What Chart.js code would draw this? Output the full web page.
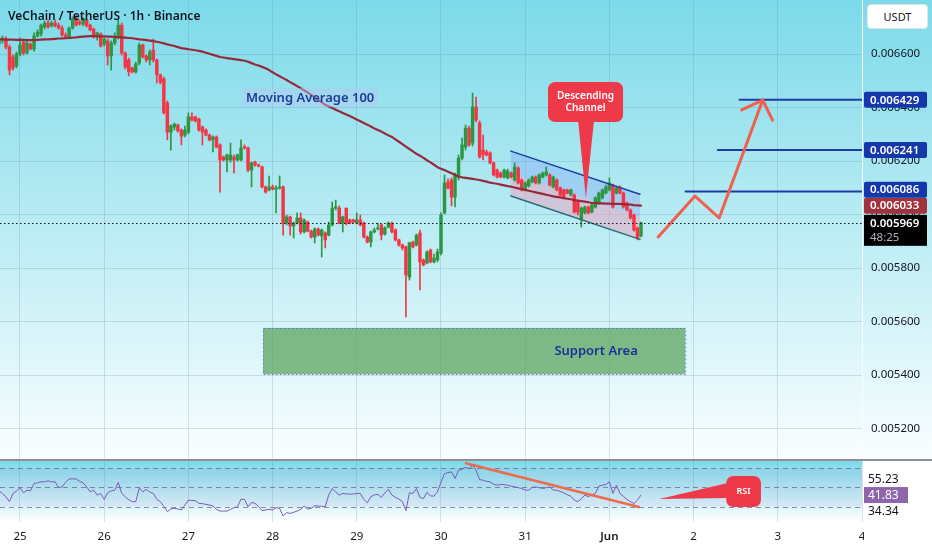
<!DOCTYPE html>
<html>
<head>
<meta charset="utf-8">
<title>VET/USDT 1h</title>
<script src="https://cdn.jsdelivr.net/npm/chart.js@4.4.1/dist/chart.umd.min.js"></script>
<style>
  html, body { margin: 0; padding: 0; background: #fff; }
  #wrap { position: relative; width: 932px; height: 550px; overflow: hidden; font-family: "Noto Sans", sans-serif; }
  #price { position: absolute; left: 0; top: 0; }
  #osc { position: absolute; left: 0; top: 459px; }
  #title { position: absolute; left: 8px; top: 7px; font-size: 12px; font-weight: 600; color: #131722; line-height: 18px; white-space: nowrap; }
  #unit { position: absolute; left: 867px; top: 4px; width: 59px; height: 23px; background: #fff; border: 1px solid #e0e3eb; border-radius: 4px; font-size: 11px; line-height: 23px; text-align: center; color: #131722; }
</style>
</head>
<body>
<div id="wrap">
  <canvas id="price" width="932" height="459"></canvas>
  <canvas id="osc" width="932" height="91"></canvas>
  <div id="title">VeChain / TetherUS · 1h · Binance</div>
  <div id="unit">USDT</div>
</div>
<script>
// hours are counted from 25 May 00:00, first candle is 24 May 18:00
const firstHour = -6;

const opens = [
  0.006637, 0.006652, 0.006656, 0.006626, 0.006589, 0.006555, 0.006600, 0.006645, 0.006604, 0.006637,
  0.006619, 0.006667, 0.006675, 0.006701, 0.006716, 0.006705, 0.006716, 0.006708, 0.006697, 0.006671,
  0.006664, 0.006697, 0.006731, 0.006720, 0.006712, 0.006727, 0.006708, 0.006693, 0.006667, 0.006675,
  0.006637, 0.006649, 0.006593, 0.006641, 0.006664, 0.006708, 0.006604, 0.006578, 0.006548, 0.006533,
  0.006566, 0.006634, 0.006593, 0.006578, 0.006615, 0.006578, 0.006522, 0.006507, 0.006417, 0.006308,
  0.006327, 0.006335, 0.006316, 0.006297, 0.006308, 0.006365, 0.006365, 0.006357, 0.006327, 0.006316,
  0.006297, 0.006279, 0.006290, 0.006260, 0.006215, 0.006204, 0.006204, 0.006215, 0.006204, 0.006204,
  0.006252, 0.006249, 0.006166, 0.006196, 0.006185, 0.006178, 0.006103, 0.006092, 0.006103, 0.006095,
  0.006099, 0.006103, 0.005968, 0.005991, 0.005957, 0.005968, 0.005987, 0.005935, 0.005972, 0.005938,
  0.005916, 0.005946, 0.005920, 0.005931, 0.005923, 0.005961, 0.006024, 0.006024, 0.005968, 0.006024,
  0.005980, 0.005980, 0.005968, 0.005980, 0.005968, 0.005916, 0.005897, 0.005935, 0.005946, 0.005961,
  0.005927, 0.005953, 0.005968, 0.005942, 0.005905, 0.005886, 0.005879, 0.005766, 0.005897, 0.005886,
  0.005931, 0.005830, 0.005819, 0.005867, 0.005823, 0.005830, 0.005856, 0.006006, 0.006122, 0.006129,
  0.006065, 0.006140, 0.006211, 0.006252, 0.006323, 0.006267, 0.006402, 0.006342, 0.006241, 0.006234,
  0.006230, 0.006193, 0.006166, 0.006155, 0.006140, 0.006137, 0.006155, 0.006129, 0.006174, 0.006129,
  0.006092, 0.006107, 0.006122, 0.006140, 0.006118, 0.006140, 0.006148, 0.006148, 0.006103, 0.006129,
  0.006099, 0.006092, 0.006092, 0.006073, 0.006073, 0.006047, 0.005980, 0.006006, 0.006028, 0.006009,
  0.006028, 0.006043, 0.006062, 0.006080, 0.006092, 0.006110, 0.006080, 0.006099, 0.006080, 0.006043,
  0.006017, 0.005998, 0.005950, 0.005920
];
const highs = [
  0.006660, 0.006667, 0.006664, 0.006634, 0.006596, 0.006607, 0.006660, 0.006652, 0.006649, 0.006641,
  0.006679, 0.006690, 0.006712, 0.006723, 0.006727, 0.006723, 0.006727, 0.006716, 0.006705, 0.006679,
  0.006701, 0.006738, 0.006746, 0.006727, 0.006735, 0.006731, 0.006712, 0.006697, 0.006682, 0.006679,
  0.006660, 0.006656, 0.006649, 0.006679, 0.006727, 0.006716, 0.006608, 0.006585, 0.006551, 0.006570,
  0.006641, 0.006637, 0.006596, 0.006615, 0.006656, 0.006581, 0.006525, 0.006514, 0.006424, 0.006335,
  0.006342, 0.006338, 0.006320, 0.006331, 0.006380, 0.006380, 0.006368, 0.006361, 0.006331, 0.006320,
  0.006301, 0.006294, 0.006294, 0.006264, 0.006219, 0.006226, 0.006267, 0.006223, 0.006226, 0.006279,
  0.006260, 0.006252, 0.006196, 0.006200, 0.006189, 0.006181, 0.006107, 0.006144, 0.006110, 0.006107,
  0.006144, 0.006107, 0.005998, 0.005994, 0.005972, 0.006006, 0.006006, 0.005983, 0.005976, 0.005942,
  0.005950, 0.005950, 0.005946, 0.005935, 0.005972, 0.006047, 0.006054, 0.006032, 0.005994, 0.006024,
  0.005983, 0.005983, 0.006006, 0.005998, 0.005972, 0.005920, 0.005938, 0.005950, 0.005968, 0.005965,
  0.005954, 0.005972, 0.005972, 0.005946, 0.005908, 0.005890, 0.005882, 0.005897, 0.005901, 0.005927,
  0.005942, 0.005834, 0.005864, 0.005871, 0.005852, 0.005871, 0.006006, 0.006148, 0.006133, 0.006137,
  0.006155, 0.006223, 0.006286, 0.006335, 0.006331, 0.006454, 0.006439, 0.006350, 0.006297, 0.006241,
  0.006234, 0.006196, 0.006170, 0.006159, 0.006170, 0.006170, 0.006159, 0.006193, 0.006178, 0.006133,
  0.006122, 0.006133, 0.006144, 0.006144, 0.006152, 0.006159, 0.006178, 0.006152, 0.006144, 0.006133,
  0.006103, 0.006095, 0.006095, 0.006095, 0.006077, 0.006050, 0.006028, 0.006032, 0.006032, 0.006039,
  0.006066, 0.006084, 0.006095, 0.006110, 0.006137, 0.006114, 0.006103, 0.006107, 0.006084, 0.006047,
  0.006021, 0.006002, 0.005953, 0.005972
];
const lows = [
  0.006630, 0.006641, 0.006619, 0.006522, 0.006540, 0.006548, 0.006593, 0.006596, 0.006600, 0.006615,
  0.006611, 0.006664, 0.006667, 0.006693, 0.006697, 0.006701, 0.006701, 0.006693, 0.006667, 0.006660,
  0.006660, 0.006693, 0.006705, 0.006708, 0.006705, 0.006701, 0.006686, 0.006660, 0.006652, 0.006626,
  0.006630, 0.006559, 0.006540, 0.006634, 0.006656, 0.006596, 0.006544, 0.006518, 0.006529, 0.006529,
  0.006559, 0.006585, 0.006570, 0.006559, 0.006570, 0.006492, 0.006488, 0.006376, 0.006279, 0.006241,
  0.006316, 0.006308, 0.006260, 0.006290, 0.006301, 0.006350, 0.006346, 0.006312, 0.006260, 0.006294,
  0.006275, 0.006234, 0.006249, 0.006084, 0.006200, 0.006159, 0.006196, 0.006155, 0.006200, 0.006200,
  0.006245, 0.006159, 0.006103, 0.006181, 0.006178, 0.006099, 0.006080, 0.006088, 0.006092, 0.006006,
  0.006095, 0.005923, 0.005961, 0.005923, 0.005912, 0.005965, 0.005927, 0.005931, 0.005935, 0.005912,
  0.005894, 0.005920, 0.005841, 0.005875, 0.005920, 0.005957, 0.006017, 0.005965, 0.005935, 0.005961,
  0.005965, 0.005968, 0.005965, 0.005957, 0.005912, 0.005894, 0.005879, 0.005931, 0.005942, 0.005905,
  0.005923, 0.005950, 0.005931, 0.005901, 0.005882, 0.005867, 0.005617, 0.005755, 0.005875, 0.005882,
  0.005718, 0.005808, 0.005815, 0.005819, 0.005819, 0.005823, 0.005849, 0.006002, 0.006095, 0.006032,
  0.006028, 0.006129, 0.006204, 0.006241, 0.006256, 0.006256, 0.006346, 0.006211, 0.006204, 0.006219,
  0.006189, 0.006144, 0.006137, 0.006137, 0.006137, 0.006133, 0.006137, 0.006125, 0.006114, 0.006088,
  0.006088, 0.006103, 0.006118, 0.006114, 0.006114, 0.006137, 0.006144, 0.006107, 0.006099, 0.006088,
  0.006069, 0.006062, 0.006077, 0.006069, 0.006006, 0.005998, 0.005953, 0.006002, 0.006002, 0.006006,
  0.006024, 0.006039, 0.006058, 0.006077, 0.006088, 0.006024, 0.006077, 0.006077, 0.006024, 0.006013,
  0.005983, 0.005938, 0.005905, 0.005916
];
const closes = [
  0.006652, 0.006660, 0.006626, 0.006540, 0.006548, 0.006600, 0.006634, 0.006604, 0.006641, 0.006619,
  0.006667, 0.006682, 0.006708, 0.006716, 0.006701, 0.006716, 0.006705, 0.006697, 0.006671, 0.006664,
  0.006697, 0.006731, 0.006708, 0.006712, 0.006731, 0.006705, 0.006690, 0.006664, 0.006679, 0.006630,
  0.006656, 0.006593, 0.006641, 0.006664, 0.006708, 0.006604, 0.006551, 0.006533, 0.006533, 0.006563,
  0.006634, 0.006589, 0.006578, 0.006608, 0.006578, 0.006522, 0.006495, 0.006380, 0.006308, 0.006331,
  0.006338, 0.006312, 0.006293, 0.006316, 0.006365, 0.006353, 0.006350, 0.006316, 0.006308, 0.006297,
  0.006279, 0.006290, 0.006252, 0.006204, 0.006204, 0.006223, 0.006223, 0.006204, 0.006223, 0.006249,
  0.006249, 0.006166, 0.006193, 0.006185, 0.006181, 0.006103, 0.006084, 0.006103, 0.006095, 0.006099,
  0.006103, 0.005968, 0.005991, 0.005957, 0.005968, 0.005987, 0.005935, 0.005980, 0.005938, 0.005916,
  0.005946, 0.005923, 0.005942, 0.005905, 0.005961, 0.006024, 0.006028, 0.005968, 0.005991, 0.005968,
  0.005968, 0.005972, 0.005980, 0.005961, 0.005916, 0.005897, 0.005935, 0.005942, 0.005950, 0.005923,
  0.005950, 0.005968, 0.005935, 0.005905, 0.005886, 0.005875, 0.005774, 0.005894, 0.005879, 0.005923,
  0.005823, 0.005811, 0.005860, 0.005823, 0.005837, 0.005860, 0.005998, 0.006118, 0.006099, 0.006065,
  0.006148, 0.006211, 0.006260, 0.006323, 0.006260, 0.006402, 0.006353, 0.006215, 0.006223, 0.006223,
  0.006193, 0.006148, 0.006140, 0.006140, 0.006166, 0.006163, 0.006140, 0.006178, 0.006118, 0.006092,
  0.006118, 0.006129, 0.006140, 0.006118, 0.006148, 0.006155, 0.006159, 0.006110, 0.006140, 0.006092,
  0.006073, 0.006065, 0.006080, 0.006092, 0.006009, 0.006009, 0.006024, 0.006028, 0.006006, 0.006036,
  0.006062, 0.006080, 0.006092, 0.006103, 0.006118, 0.006028, 0.006099, 0.006080, 0.006028, 0.006017,
  0.005987, 0.005942, 0.005912, 0.005969
];
const ma100 = [
  0.006655, 0.006655, 0.006654, 0.006654, 0.006654, 0.006653, 0.006653, 0.006653, 0.006652, 0.006652,
  0.006652, 0.006653, 0.006654, 0.006655, 0.006655, 0.006656, 0.006657, 0.006658, 0.006658, 0.006659,
  0.006660, 0.006661, 0.006662, 0.006664, 0.006665, 0.006666, 0.006667, 0.006667, 0.006666, 0.006666,
  0.006666, 0.006665, 0.006665, 0.006664, 0.006663, 0.006662, 0.006661, 0.006660, 0.006659, 0.006657,
  0.006655, 0.006654, 0.006652, 0.006650, 0.006648, 0.006646, 0.006643, 0.006640, 0.006636, 0.006633,
  0.006630, 0.006626, 0.006622, 0.006620, 0.006618, 0.006616, 0.006614, 0.006612, 0.006609, 0.006605,
  0.006601, 0.006597, 0.006593, 0.006589, 0.006587, 0.006585, 0.006583, 0.006581, 0.006579, 0.006577,
  0.006575, 0.006571, 0.006566, 0.006561, 0.006557, 0.006552, 0.006547, 0.006540, 0.006532, 0.006524,
  0.006517, 0.006510, 0.006503, 0.006495, 0.006488, 0.006480, 0.006472, 0.006464, 0.006456, 0.006447,
  0.006438, 0.006429, 0.006419, 0.006410, 0.006404, 0.006398, 0.006392, 0.006386, 0.006380, 0.006374,
  0.006368, 0.006362, 0.006355, 0.006349, 0.006342, 0.006336, 0.006329, 0.006322, 0.006316, 0.006310,
  0.006303, 0.006296, 0.006290, 0.006281, 0.006272, 0.006263, 0.006254, 0.006245, 0.006236, 0.006227,
  0.006220, 0.006212, 0.006203, 0.006195, 0.006186, 0.006177, 0.006171, 0.006166, 0.006160, 0.006154,
  0.006148, 0.006142, 0.006139, 0.006137, 0.006135, 0.006133, 0.006131, 0.006129, 0.006126, 0.006123,
  0.006119, 0.006117, 0.006115, 0.006112, 0.006109, 0.006106, 0.006104, 0.006101, 0.006098, 0.006095,
  0.006092, 0.006089, 0.006086, 0.006083, 0.006080, 0.006077, 0.006074, 0.006071, 0.006068, 0.006066,
  0.006064, 0.006061, 0.006059, 0.006057, 0.006054, 0.006052, 0.006050, 0.006048, 0.006046, 0.006043,
  0.006043, 0.006042, 0.006042, 0.006041, 0.006041, 0.006040, 0.006040, 0.006040, 0.006039, 0.006038,
  0.006037, 0.006035, 0.006034, 0.006033
];
const rsi14 = [
  46.2, 43.5, 40.0, 35.0, 43.5, 46.0, 49.3, 44.2, 46.9, 46.2,
  53.7, 54.5, 55.5, 55.5, 56.5, 55.5, 55.5, 49.6, 50.3, 55.0,
  58.5, 58.5, 58.5, 56.0, 54.4, 50.3, 45.2, 46.9, 41.8, 43.5,
  37.3, 44.2, 46.2, 46.9, 54.8, 43.5, 40.1, 37.0, 35.0, 35.0,
  49.3, 45.2, 47.6, 45.0, 43.5, 37.3, 35.0, 30.0, 24.7, 27.4,
  28.1, 27.5, 26.4, 31.5, 36.6, 36.3, 36.0, 33.2, 33.0, 32.2,
  31.5, 30.5, 27.1, 25.3, 25.3, 25.3, 27.0, 28.8, 29.8, 37.7,
  37.3, 29.8, 34.2, 33.2, 30.0, 25.7, 26.5, 27.1, 26.4, 28.8,
  28.1, 20.2, 23.6, 22.9, 24.0, 25.3, 27.1, 30.5, 27.4, 28.1,
  30.8, 30.5, 30.2, 29.8, 41.8, 48.6, 45.0, 41.8, 43.5, 43.0,
  42.8, 43.0, 43.5, 43.5, 37.3, 33.9, 40.1, 42.0, 42.5, 39.4,
  44.0, 47.9, 41.8, 39.5, 37.7, 35.0, 25.7, 44.2, 43.5, 48.6,
  39.4, 38.3, 44.5, 41.0, 40.7, 45.2, 55.0, 64.0, 65.0, 65.7,
  58.9, 67.4, 68.5, 70.5, 69.1, 72.5, 67.4, 57.8, 57.2, 56.0,
  55.5, 53.0, 52.0, 52.7, 52.5, 52.0, 51.0, 50.3, 49.5, 48.6,
  47.0, 46.9, 49.6, 50.3, 49.5, 48.6, 49.5, 50.3, 46.9, 46.9,
  45.5, 44.2, 42.0, 40.7, 36.6, 35.0, 38.0, 41.8, 40.1, 42.0,
  43.5, 51.0, 52.0, 52.7, 55.5, 43.5, 52.0, 43.5, 40.5, 37.3,
  35.0, 33.2, 36.6, 41.83
];
const rsiSideValues = [55.23, 34.34];
const countdown = '48:25';

const dayHours = [0, 24, 48, 72, 96, 120, 144, 168, 192, 216, 240];
const dayLabels = ['25', '26', '27', '28', '29', '30', '31', 'Jun', '2', '3', '4'];
const priceTicks = [0.0052, 0.0054, 0.0056, 0.0058, 0.006, 0.0062, 0.0064, 0.0066];
const rsiLevels = [30, 50, 70];

// drawings, in hours / price
const supportHours = [69.3, 189.6];
const supportPrices = [0.005404, 0.005576];
const supportTextHour = 164.2;
const channelHours = [139.9, 176.7];
const channelTop = [0.006237, 0.006076];
const channelBottom = [0.006069, 0.005907];
const pathHours = [181.9, 192.4, 199.3, 211.7];
const pathPrices = [0.005916, 0.006069, 0.005987, 0.006428];
const headHours = [205.7, 211.7, 214.5];
const headPrices = [0.006391, 0.006428, 0.006353];
const targetStarts = [189.7, 198.9, 205.1];
const targetPrices = [0.006086, 0.006241, 0.006429];
const maTagHours = [63.3, 102.1];
const maTagPrices = [0.006402, 0.006473];
const calloutHours = [150.5, 171.9];
const calloutPrices = [0.006346, 0.006495];
const calloutPointer = { hours: [159.1, 161.3, 163.6], price: 0.006062 };
const rsiTrendHours = [127.1, 176.4];
const rsiTrendValues = [74.6, 29.5];
const rsiBoxHours = [201.3, 211.2];
const rsiBoxValues = [29.5, 61.5];
const rsiPointer = { hours: [201.8, 182.2], values: [54.3, 37.8, 38.8] };

const xMin = -5.7;
const xMax = 240;
const up = '#2c9642';
const down = '#f23645';
const red = '#ee3a48';
const gridColor = 'rgba(100, 125, 160, 0.22)';
Chart.defaults.font.family = '"Noto Sans", sans-serif';

const hours = closes.map((_, i) => firstHour + i);
const candleColors = closes.map((c, i) => (c >= opens[i] ? up : down));
const lastPrice = closes[closes.length - 1];
const lastMa = ma100[ma100.length - 1];
const lastRsi = rsi14[rsi14.length - 1];
const toPoints = (xs, ys) => xs.map((x, i) => ({ x, y: ys[i] }));

const lineSet = (data, color, width, order) => ({
  type: 'line', data, borderColor: color, borderWidth: width, pointRadius: 0,
  tension: 0, borderJoinStyle: 'round', borderCapStyle: 'round', order,
});

const polygon = (ctx, pts) => {
  ctx.beginPath();
  pts.forEach(([x, y], i) => (i ? ctx.lineTo(x, y) : ctx.moveTo(x, y)));
  ctx.closePath();
  ctx.fill();
};

const priceDecor = {
  id: 'priceDecor',
  beforeDraw(chart) {
    const { ctx, width, height } = chart;
    const g = ctx.createLinearGradient(0, 0, 0, height);
    g.addColorStop(0, '#7cdae9');
    g.addColorStop(1, '#fafeff');
    ctx.save();
    ctx.fillStyle = g;
    ctx.fillRect(0, 0, width, height);
    ctx.restore();
  },
  beforeDatasetsDraw(chart) {
    const { ctx, scales: { x, y } } = chart;
    ctx.save();
    const sx1 = x.getPixelForValue(supportHours[0]);
    const sx2 = x.getPixelForValue(supportHours[1]);
    const sy1 = y.getPixelForValue(supportPrices[1]);
    const sy2 = y.getPixelForValue(supportPrices[0]);
    ctx.fillStyle = 'rgba(84, 160, 86, 0.7)';
    ctx.fillRect(sx1, sy1, sx2 - sx1, sy2 - sy1);
    ctx.setLineDash([2, 2]);
    ctx.strokeStyle = 'rgba(70, 100, 200, 0.7)';
    ctx.lineWidth = 1;
    ctx.strokeRect(sx1 + 0.5, sy1 + 0.5, sx2 - sx1, sy2 - sy1);
    ctx.setLineDash([]);

    const cx1 = x.getPixelForValue(channelHours[0]);
    const cx2 = x.getPixelForValue(channelHours[1]);
    const t1 = y.getPixelForValue(channelTop[0]);
    const t2 = y.getPixelForValue(channelTop[1]);
    const b1 = y.getPixelForValue(channelBottom[0]);
    const b2 = y.getPixelForValue(channelBottom[1]);
    const m1 = (t1 + b1) / 2;
    const m2 = (t2 + b2) / 2;
    ctx.fillStyle = 'rgba(120, 150, 245, 0.3)';
    polygon(ctx, [[cx1, t1], [cx2, t2], [cx2, m2], [cx1, m1]]);
    ctx.fillStyle = 'rgba(237, 160, 190, 0.5)';
    polygon(ctx, [[cx1, m1], [cx2, m2], [cx2, b2], [cx1, b1]]);
    ctx.restore();
  },
  afterDatasetsDraw(chart) {
    const { ctx, chartArea, scales: { x, y } } = chart;
    ctx.save();
    const ly = Math.round(y.getPixelForValue(lastPrice)) + 0.5;
    ctx.strokeStyle = '#131722';
    ctx.lineWidth = 1;
    ctx.setLineDash([1.5, 2.5]);
    ctx.beginPath();
    ctx.moveTo(chartArea.left, ly);
    ctx.lineTo(chartArea.right, ly);
    ctx.stroke();
    ctx.setLineDash([]);

    ctx.textAlign = 'center';
    ctx.textBaseline = 'middle';
    const mx1 = x.getPixelForValue(maTagHours[0]);
    const mx2 = x.getPixelForValue(maTagHours[1]);
    const my1 = y.getPixelForValue(maTagPrices[1]);
    const my2 = y.getPixelForValue(maTagPrices[0]);
    ctx.fillStyle = 'rgba(180, 200, 240, 0.45)';
    ctx.fillRect(mx1, my1, mx2 - mx1, my2 - my1);
    ctx.fillStyle = '#1e3a94';
    ctx.font = '600 13px "Noto Sans"';
    ctx.fillText('Moving Average 100', (mx1 + mx2) / 2, (my1 + my2) / 2 + 0.5);

    ctx.fillStyle = '#1a3296';
    ctx.fillText('Support Area', x.getPixelForValue(supportTextHour),
      y.getPixelForValue((supportPrices[0] + supportPrices[1]) / 2));

    const bx1 = x.getPixelForValue(calloutHours[0]);
    const bx2 = x.getPixelForValue(calloutHours[1]);
    const by1 = y.getPixelForValue(calloutPrices[1]);
    const by2 = y.getPixelForValue(calloutPrices[0]);
    const tipY = y.getPixelForValue(calloutPointer.price);
    const [p1, tip, p2] = calloutPointer.hours.map((h) => x.getPixelForValue(h));
    ctx.fillStyle = red;
    ctx.beginPath();
    ctx.roundRect(bx1, by1, bx2 - bx1, by2 - by1, 7);
    ctx.fill();
    polygon(ctx, [[p1, by2 - 1], [tip, tipY], [p2, by2 - 1]]);
    ctx.fillStyle = '#fff';
    ctx.font = '600 10px "Noto Sans"';
    const cmx = (bx1 + bx2) / 2;
    const cmy = (by1 + by2) / 2;
    ctx.fillText('Descending', cmx, cmy - 6);
    ctx.fillText('Channel', cmx, cmy + 6);

    // price scale tags
    const tagX = chartArea.right + 2;
    const tagW = 63;
    const cy = y.getPixelForValue(lastPrice);
    ctx.textAlign = 'left';
    ctx.fillStyle = '#000';
    ctx.fillRect(tagX, cy - 8, tagW, 31);
    ctx.fillStyle = '#fff';
    ctx.font = '600 11.5px "Noto Sans"';
    ctx.fillText(lastPrice.toFixed(6), tagX + 6, cy + 0.5);
    ctx.fillStyle = '#b2b5be';
    ctx.font = '11.5px "Noto Sans"';
    ctx.fillText(countdown, tagX + 6, cy + 15);

    const tags = [{ v: lastMa, bg: '#a3323f' }]
      .concat(targetPrices.map((v) => ({ v, bg: '#1437aa' })))
      .sort((a, b) => a.v - b.v);
    let limit = cy - 8;
    ctx.font = '600 11.5px "Noto Sans"';
    tags.forEach((t) => {
      let c = y.getPixelForValue(t.v);
      if (c + 8 > limit) c = limit - 8;
      ctx.fillStyle = t.bg;
      ctx.beginPath();
      ctx.roundRect(tagX, c - 8, tagW, 16, 2);
      ctx.fill();
      ctx.fillStyle = '#fff';
      ctx.fillText(t.v.toFixed(6), tagX + 6, c + 0.5);
      limit = c - 8;
    });
    ctx.restore();
  },
};

const oscDecor = {
  id: 'oscDecor',
  beforeDraw(chart) {
    const { ctx, width, height, chartArea: a } = chart;
    ctx.save();
    ctx.fillStyle = '#fff';
    ctx.fillRect(0, 0, width, height);
    const g = ctx.createLinearGradient(0, a.top, 0, a.bottom);
    g.addColorStop(0, '#7cdae9');
    g.addColorStop(1, '#ffffff');
    ctx.fillStyle = g;
    ctx.fillRect(a.left, a.top, a.right - a.left, a.bottom - a.top);
    ctx.fillStyle = '#8c8f98';
    ctx.fillRect(0, 0, width, 2);
    ctx.restore();
  },
  beforeDatasetsDraw(chart) {
    const { ctx, chartArea: a, scales: { y } } = chart;
    ctx.save();
    const top = y.getPixelForValue(70);
    const bottom = y.getPixelForValue(30);
    ctx.fillStyle = 'rgba(126, 87, 194, 0.08)';
    ctx.fillRect(a.left, top, a.right - a.left, bottom - top);
    ctx.strokeStyle = 'rgba(110, 100, 140, 0.75)';
    ctx.lineWidth = 1;
    ctx.setLineDash([5, 4]);
    rsiLevels.forEach((lv) => {
      const py = Math.round(y.getPixelForValue(lv)) + 0.5;
      ctx.beginPath();
      ctx.moveTo(a.left, py);
      ctx.lineTo(a.right, py);
      ctx.stroke();
    });
    ctx.restore();
  },
  afterDatasetsDraw(chart) {
    const { ctx, chartArea: a, scales: { x, y } } = chart;
    ctx.save();
    const bx1 = x.getPixelForValue(rsiBoxHours[0]);
    const bx2 = x.getPixelForValue(rsiBoxHours[1]);
    const by1 = y.getPixelForValue(rsiBoxValues[1]);
    const by2 = y.getPixelForValue(rsiBoxValues[0]);
    const baseX = x.getPixelForValue(rsiPointer.hours[0]);
    const tipX = x.getPixelForValue(rsiPointer.hours[1]);
    const [v1, vt, v2] = rsiPointer.values.map((v) => y.getPixelForValue(v));
    ctx.fillStyle = red;
    ctx.beginPath();
    ctx.roundRect(bx1, by1, bx2 - bx1, by2 - by1, 7);
    ctx.fill();
    polygon(ctx, [[baseX, v1], [tipX, vt], [baseX, v2]]);
    ctx.fillStyle = '#fff';
    ctx.font = '600 9px "Noto Sans"';
    ctx.textAlign = 'center';
    ctx.textBaseline = 'middle';
    ctx.fillText('RSI', (bx1 + bx2) / 2, (by1 + by2) / 2);

    const tagX = a.right + 2;
    const tagW = 44;
    const cy = y.getPixelForValue(lastRsi);
    ctx.textAlign = 'left';
    ctx.font = '12px "Noto Sans"';
    const drawTag = (c, text, bg, fg) => {
      ctx.fillStyle = bg;
      ctx.fillRect(tagX, c - 8, tagW, 16);
      ctx.fillStyle = fg;
      ctx.fillText(text, tagX + 4, c + 0.5);
    };
    drawTag(Math.min(y.getPixelForValue(rsiSideValues[0]), cy - 16), rsiSideValues[0].toFixed(2), '#fff', '#131722');
    drawTag(Math.max(y.getPixelForValue(rsiSideValues[1]), cy + 16), rsiSideValues[1].toFixed(2), '#fff', '#131722');
    drawTag(cy, lastRsi.toFixed(2), '#8e66ab', '#fff');
    ctx.restore();
  },
  afterDraw(chart) {
    const { ctx, chartArea: a, width, height } = chart;
    ctx.save();
    ctx.fillStyle = '#fff';
    ctx.fillRect(a.right + 2, a.bottom + 1, width - a.right, height - a.bottom);
    ctx.restore();
  },
};

new Chart(document.getElementById('price'), {
  type: 'bar',
  data: {
    datasets: [
      lineSet(toPoints(pathHours, pathPrices), '#f0604d', 3, 0),
      lineSet(toPoints(headHours, headPrices), '#f0604d', 3, 0),
      ...targetPrices.map((p, i) => lineSet(toPoints([targetStarts[i], xMax], [p, p]), '#1c3ca0', 2, 1)),
      lineSet(toPoints(hours, ma100), '#962a3a', 2.2, 2),
      lineSet(toPoints(channelHours, channelTop), '#1b3fa3', 1.5, 3),
      lineSet(toPoints(channelHours, channelBottom), '#2a6b78', 1.5, 3),
      {
        type: 'bar',
        data: hours.map((h, i) => ({ x: h, y: [opens[i], closes[i]] })),
        backgroundColor: candleColors,
        borderWidth: 0,
        barThickness: 2.8,
        minBarLength: 1,
        grouped: false,
        order: 4,
      },
      {
        type: 'bar',
        data: hours.map((h, i) => ({ x: h, y: [lows[i], highs[i]] })),
        backgroundColor: candleColors,
        borderWidth: 0,
        barThickness: 1,
        grouped: false,
        order: 5,
      },
    ],
  },
  options: {
    responsive: false,
    animation: false,
    events: [],
    layout: { padding: 0 },
    plugins: { legend: { display: false }, tooltip: { enabled: false } },
    scales: {
      x: {
        type: 'linear',
        min: xMin,
        max: xMax,
        offset: false,
        afterBuildTicks: (s) => { s.ticks = dayHours.map((v) => ({ value: v })); },
        afterFit: (s) => { s.height = 0; s.paddingLeft = 0; s.paddingRight = 0; },
        grid: { offset: false, color: gridColor, drawTicks: false },
        border: { display: false },
        ticks: { display: false },
      },
      y: {
        type: 'linear',
        position: 'right',
        min: 0.005086,
        max: 0.006802,
        afterBuildTicks: (s) => { s.ticks = priceTicks.map((v) => ({ value: v })); },
        afterFit: (s) => { s.width = 70; s.paddingTop = 0; s.paddingBottom = 0; },
        grid: { color: gridColor, drawTicks: false },
        border: { color: 'rgba(255, 255, 255, 0.9)' },
        ticks: { padding: 9, color: '#131722', font: { size: 11.5 }, callback: (v) => v.toFixed(6) },
      },
    },
  },
  plugins: [priceDecor],
});

new Chart(document.getElementById('osc'), {
  type: 'line',
  data: {
    datasets: [
      lineSet(toPoints(rsiTrendHours, rsiTrendValues), '#ef6a4c', 2.5, 0),
      { data: toPoints(hours, rsi14), borderColor: '#7e5bb5', borderWidth: 1, pointRadius: 0, tension: 0, order: 1 },
    ],
  },
  options: {
    responsive: false,
    animation: false,
    events: [],
    layout: { padding: { top: 2 } },
    plugins: { legend: { display: false }, tooltip: { enabled: false } },
    scales: {
      x: {
        type: 'linear',
        min: xMin,
        max: xMax,
        afterBuildTicks: (s) => { s.ticks = dayHours.map((v) => ({ value: v })); },
        afterFit: (s) => { s.height = 28; s.paddingLeft = 0; s.paddingRight = 0; },
        grid: { color: gridColor, drawTicks: false },
        border: { display: false },
        ticks: {
          padding: 8,
          color: '#131722',
          maxRotation: 0,
          autoSkip: false,
          font: (c) => ({ size: 11.5, weight: c.tick && c.tick.value === 168 ? '600' : '400' }),
          callback: (v) => dayLabels[dayHours.indexOf(v)],
        },
      },
      y: {
        type: 'linear',
        position: 'right',
        min: 14,
        max: 77,
        afterFit: (s) => { s.width = 70; s.paddingTop = 0; s.paddingBottom = 0; },
        grid: { display: false },
        border: { display: false },
        ticks: { display: false },
      },
    },
  },
  plugins: [oscDecor],
});
</script>
</body>
</html>
